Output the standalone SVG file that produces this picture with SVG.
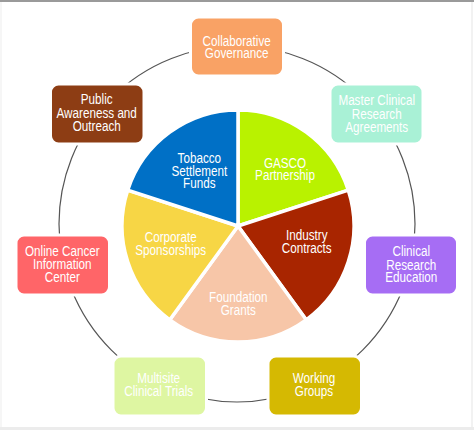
<svg xmlns="http://www.w3.org/2000/svg" width="474" height="430" viewBox="0 0 474 430">
<style>
text{font-family:"Liberation Sans",Arial,sans-serif;font-size:13px;fill:#fff;text-anchor:middle}
.box{stroke:#fff;stroke-width:3}
.slice{stroke:#fff;stroke-width:3.5;stroke-linejoin:miter}
.conn{fill:none;stroke:#555;stroke-width:1.2}
</style>
<rect x="0" y="0" width="474" height="430" fill="#fff"/>
<rect x="0" y="0" width="474" height="2" fill="#9a9a9a"/>
<rect x="0" y="427" width="474" height="3" fill="#ececec"/>
<rect x="0.5" y="2" width="1" height="425" fill="#eeeeee"/>
<rect x="471.5" y="2" width="1" height="425" fill="#e6e6e6"/>
<g id="connectors">
<circle class="conn" cx="237" cy="224" r="178"/>
</g>
<g id="pie">
<g id="gasco"><path class="slice" fill="#B9F200" d="M238,226 L238,110 A116,116 0 0 1 348.3,190.2 Z"/>
<text transform="translate(285 167.5) scale(0.9 1.08)">GASCO</text><text transform="translate(285 180) scale(0.9 1.08)">Partnership</text></g>
<g id="industry"><path class="slice" fill="#A82500" d="M238,226 L348.3,190.2 A116,116 0 0 1 306.2,319.8 Z"/>
<text transform="translate(306.7 240) scale(0.9 1.08)">Industry</text><text transform="translate(306.7 252.5) scale(0.9 1.08)">Contracts</text></g>
<g id="foundation"><path class="slice" fill="#F7C6A8" d="M238,226 L306.2,319.8 A116,116 0 0 1 169.8,319.8 Z"/>
<text transform="translate(238.3 301.5) scale(0.9 1.08)">Foundation</text><text transform="translate(238.3 314.5) scale(0.9 1.08)">Grants</text></g>
<g id="corporate"><path class="slice" fill="#F7D645" d="M238,226 L169.8,319.8 A116,116 0 0 1 127.7,190.2 Z"/>
<text transform="translate(170.7 242) scale(0.9 1.08)">Corporate</text><text transform="translate(170.7 254.5) scale(0.9 1.08)">Sponsorships</text></g>
<g id="tobacco"><path class="slice" fill="#0070C6" d="M238,226 L127.7,190.2 A116,116 0 0 1 238,110 Z"/>
<text transform="translate(199.3 163) scale(0.9 1.08)">Tobacco</text><text transform="translate(199.3 175.5) scale(0.9 1.08)">Settlement</text><text transform="translate(199.3 187.5) scale(0.9 1.08)">Funds</text></g>
</g>
<g id="collaborative"><rect class="box" x="190.5" y="17" width="93" height="59" rx="8" fill="#F9A265"/>
<text transform="translate(236.7 45.5) scale(0.9 1.08)">Collaborative</text><text transform="translate(236.7 58) scale(0.9 1.08)">Governance</text></g>
<g id="master"><rect class="box" x="330" y="84" width="93" height="60" rx="8" fill="#A9F1D6"/>
<text transform="translate(376.7 105) scale(0.9 1.08)">Master Clinical</text><text transform="translate(376.7 119) scale(0.9 1.08)">Research</text><text transform="translate(376.7 132) scale(0.9 1.08)">Agreements</text></g>
<g id="public"><rect class="box" x="50.5" y="84" width="93.5" height="60" rx="8" fill="#8D3D14"/>
<text transform="translate(96.7 104) scale(0.9 1.08)">Public</text><text transform="translate(96.7 117.5) scale(0.9 1.08)">Awareness and</text><text transform="translate(96.7 131) scale(0.9 1.08)">Outreach</text></g>
<g id="online"><rect class="box" x="16" y="235" width="93.5" height="60" rx="8" fill="#FF6568"/>
<text transform="translate(62.3 255.5) scale(0.9 1.08)">Online Cancer</text><text transform="translate(62.3 268.5) scale(0.9 1.08)">Information</text><text transform="translate(62.3 282) scale(0.9 1.08)">Center</text></g>
<g id="clinical"><rect class="box" x="364.5" y="235" width="93" height="60" rx="8" fill="#A66DF4"/>
<text transform="translate(411.3 255.5) scale(0.9 1.08)">Clinical</text><text transform="translate(411.3 269.5) scale(0.9 1.08)">Research</text><text transform="translate(411.3 282) scale(0.9 1.08)">Education</text></g>
<g id="multisite"><rect class="box" x="113" y="356" width="93.5" height="60" rx="8" fill="#DEF6A2"/>
<text transform="translate(158.7 382.5) scale(0.9 1.08)">Multisite</text><text transform="translate(158.7 396) scale(0.9 1.08)">Clinical Trials</text></g>
<g id="working"><rect class="box" x="268" y="356" width="93.5" height="60" rx="8" fill="#D5B902"/>
<text transform="translate(314 383) scale(0.9 1.08)">Working</text><text transform="translate(314 396) scale(0.9 1.08)">Groups</text></g>
</svg>
